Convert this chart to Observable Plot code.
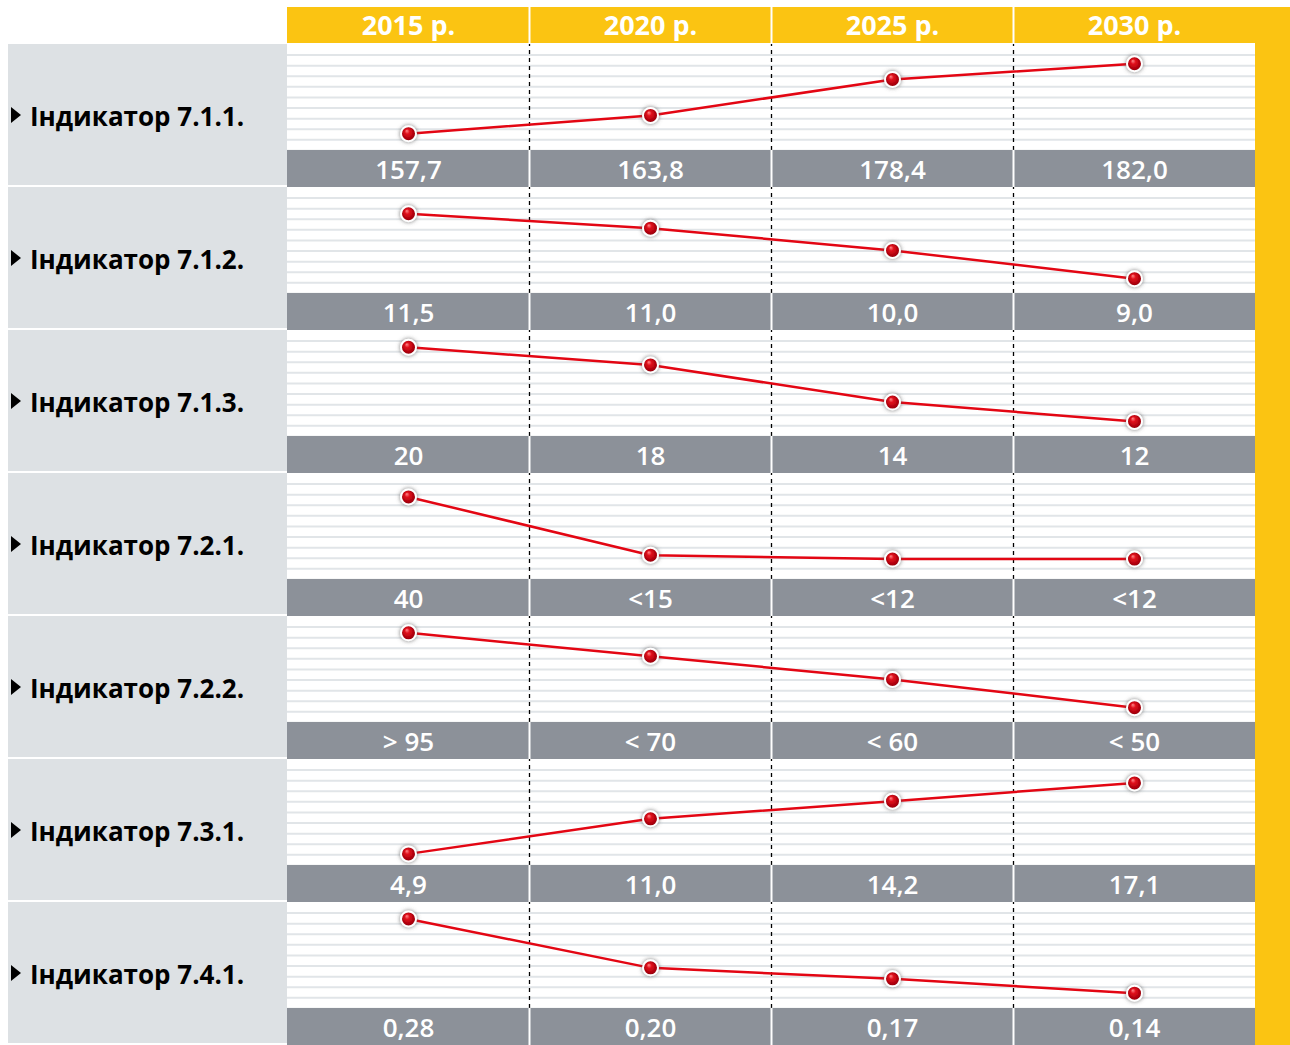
<!DOCTYPE html>
<html><head><meta charset="utf-8">
<script src="https://cdn.jsdelivr.net/npm/d3@7"></script>
<script src="https://cdn.jsdelivr.net/npm/@observablehq/plot@0.6"></script>
<style>
body{margin:0;background:#fff;}
#chart{position:relative;width:1290px;height:1045px;overflow:hidden;font-family:"Open Sans",sans-serif;background:#fff;}
.label{position:absolute;left:8px;width:279px;height:141px;background:#dde1e4;display:flex;align-items:center;}
.tri{width:0;height:0;border-left:10px solid #000;border-top:8px solid transparent;border-bottom:8px solid transparent;margin-left:3px;margin-right:9px;margin-top:1px;}
.label span{font-weight:700;font-size:26px;color:#000;line-height:1;margin-top:2px;}
.abs{position:absolute;}
.abs svg{display:block;}
</style></head>
<body>
<svg width="0" height="0" style="position:absolute">
  <defs>
    <radialGradient id="ball" cx="0.5" cy="0.5" r="0.55" fx="0.38" fy="0.3">
      <stop offset="0" stop-color="#ff8a8a"/>
      <stop offset="0.3" stop-color="#e0101c"/>
      <stop offset="0.75" stop-color="#a8000c"/>
      <stop offset="1" stop-color="#6e0006"/>
    </radialGradient>
    <filter id="shadow" x="-60%" y="-60%" width="220%" height="220%">
      <feGaussianBlur in="SourceAlpha" stdDeviation="2" result="b"/>
      <feFlood flood-color="#555" flood-opacity="0.8"/>
      <feComposite in2="b" operator="in" result="s"/>
      <feMerge><feMergeNode in="s"/><feMergeNode in="SourceGraphic"/></feMerge>
    </filter>
  </defs>
</svg>
<div id="chart"></div>
<script>
// ---- data ----
const years = ["2015 р.", "2020 р.", "2025 р.", "2030 р."];
const indicators = ["Індикатор 7.1.1.", "Індикатор 7.1.2.", "Індикатор 7.1.3.", "Індикатор 7.2.1.", "Індикатор 7.2.2.", "Індикатор 7.3.1.", "Індикатор 7.4.1."];
const valueLabels = [
  ["157,7", "163,8", "178,4", "182,0"],
  ["11,5", "11,0", "10,0", "9,0"],
  ["20", "18", "14", "12"],
  ["40", "<15", "<12", "<12"],
  ["> 95", "< 70", "< 60", "< 50"],
  ["4,9", "11,0", "14,2", "17,1"],
  ["0,28", "0,20", "0,17", "0,14"]
];
// point heights (0 = bottom, 10 = top of each row's plot band)
const levels = [
  [1.58, 3.30, 6.70, 8.18],
  [7.52, 6.16, 4.06, 1.39],
  [8.42, 6.75, 3.24, 1.42],
  [7.79, 2.29, 1.92, 1.92],
  [8.46, 6.25, 4.06, 1.39],
  [1.09, 4.40, 6.07, 7.79],
  [8.45, 3.83, 2.79, 1.44]
];

// ---- layout ----
const chart = document.getElementById("chart");
const W = 968, rowH = 143, top0 = 44, bw = W / years.length;
const stripes = d3.range(1, 10);
const YELLOW = "#fbc412";

function place(node, left, top, w, h, bg) {
  const d = document.createElement("div");
  d.className = "abs";
  d.style.left = left + "px"; d.style.top = top + "px";
  d.style.width = w + "px"; d.style.height = h + "px";
  if (bg) d.style.background = bg;
  if (node) d.appendChild(node);
  chart.appendChild(d);
  return d;
}

// right yellow band
place(null, 1255, 7, 35, 1038, YELLOW);

// header
const header = Plot.plot({
  width: W, height: 36, margin: 0,
  x: {type: "band", domain: years, range: [0, W], padding: 0, axis: null},
  style: {background: "transparent", overflow: "visible"},
  marks: [
    Plot.ruleX(years.slice(1), {x: d => d, dx: -bw / 2, stroke: "#fff", strokeWidth: 2}),
    Plot.text(years, {x: d => d, text: d => d, fill: "#fff", fontSize: 27, fontWeight: 700, fontFamily: "Open Sans", dy: 1})
  ]
});
place(header, 287, 7, W, 36, YELLOW);

indicators.forEach((name, i) => {
  const top = top0 + rowH * i;
  // label panel
  const lab = document.createElement("div");
  lab.className = "label";
  lab.style.top = top + "px";
  lab.innerHTML = '<div class="tri"></div>';
  const sp = document.createElement("span");
  sp.textContent = name;
  lab.appendChild(sp);
  chart.appendChild(lab);

  const data = years.map((year, j) => ({year, label: valueLabels[i][j], level: levels[i][j]}));
  const p = Plot.plot({
    width: W, height: rowH, margin: 0,
    x: {type: "band", domain: years, range: [0, W], padding: 0, axis: null},
    y: {domain: [-3.5, 10], range: [rowH, 0], axis: null},
    style: {background: "#fff", overflow: "visible"},
    marks: [
      Plot.ruleY(stripes, {stroke: "#e1e5e8", strokeWidth: 2}),
      Plot.ruleX(years.slice(1), {x: d => d, y1: 0, y2: 10, dx: -bw / 2, stroke: "#000", strokeWidth: 1.3, strokeDasharray: "4,4"}),
      Plot.barY(data, {x: "year", y1: -3.5, y2: 0, fill: "#8c9199"}),
      Plot.ruleX(years.slice(1), {x: d => d, y1: -3.5, y2: 0, dx: -bw / 2, stroke: "#fff", strokeWidth: 2}),
      Plot.text(data, {x: "year", y: -1.75, text: "label", fill: "#fff", fontSize: 26, fontWeight: 600, fontFamily: "Open Sans", dy: 2}),
      Plot.line(data, {x: "year", y: "level", stroke: "#e30613", strokeWidth: 2.5}),
      Plot.dot(data, {x: "year", y: "level", r: 7.5, fill: "url(#ball)", stroke: "#fff", strokeWidth: 2})
    ]
  });
  d3.select(p).selectAll('g[aria-label="dot"] circle').attr("filter", "url(#shadow)");
  place(p, 287, top, W, rowH);
});
</script>
</body></html>
